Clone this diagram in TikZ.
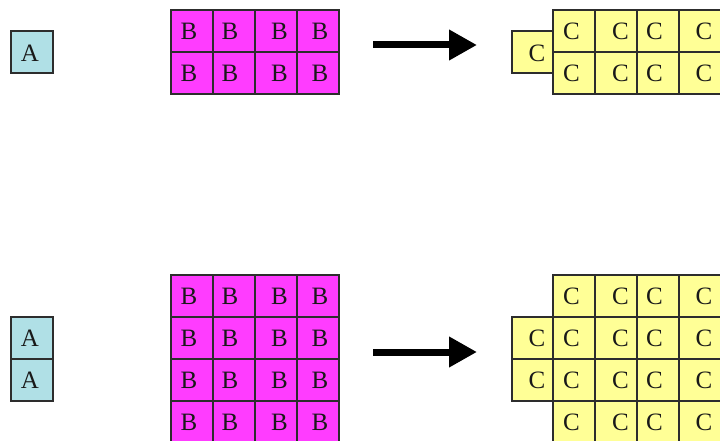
\documentclass[tikz,border=0pt]{standalone}
\usepackage{fontspec}
\setmainfont{Liberation Serif}
\usetikzlibrary{arrows.meta}
\definecolor{cellA}{RGB}{176,224,230}
\definecolor{cellB}{RGB}{255,60,255}
\definecolor{cellC}{RGB}{255,255,150}
\definecolor{edge}{RGB}{45,45,45}
\tikzset{
  cell/.style={draw=edge, line width=1.3pt, minimum width=42pt, minimum height=42pt,
    inner sep=0pt, outer sep=0pt, anchor=north west},
  acell/.style={cell, fill=cellA},
  bcell/.style={cell, fill=cellB},
  ccell/.style={cell, fill=cellC},
  letter/.style={font=\fontsize{25}{30}\selectfont, inner sep=0pt, text=black!90},
  bigarrow/.style={line width=7pt, draw=black, -{Triangle[length=28pt,width=29pt]}}
}
\begin{document}
\begin{tikzpicture}[x=1pt,y=-1pt]
\clip (0,0) rectangle (720,441);
\fill[white] (0,0) rectangle (720,441);
% ---------- top row ----------
\node[acell] (at0) at (11,31) {};
\node[letter] (atl0) at ([xshift=-2pt,yshift=-1pt]at0.center) {A};
\foreach \c/\dx in {0/-3,1/-4,2/3.5,3/2}
  \foreach \r in {0,1} {
    \node[bcell] (bt\r\c) at (171+42*\c,10+42*\r) {};
    \node[letter] (btl\r\c) at ([xshift=\dx pt]bt\r\c.center) {B};
  }
\coordinate (ts) at (373,45);
\coordinate (te) at (477,45);
\draw[bigarrow] (ts) -- (te);
\node[ccell] (ctx) at (512,31) {};
\node[letter] (ctxl) at ([xshift=4pt,yshift=-1pt]ctx.center) {C};
\foreach \c/\dx in {0/-2.5,1/4.5,2/-3.5,3/4}
  \foreach \r in {0,1} {
    \node[ccell] (ct\r\c) at (553+42*\c,10+42*\r) {};
    \node[letter] (ctl\r\c) at ([xshift=\dx pt]ct\r\c.center) {C};
  }
% ---------- bottom row ----------
\foreach \r in {0,1} {
  \node[acell] (ab\r) at (11,317+42*\r) {};
  \node[letter] (abl\r) at ([xshift=-2pt]ab\r.center) {A};
}
\foreach \c/\dx in {0/-3,1/-4,2/3.5,3/2}
  \foreach \r in {0,1,2,3} {
    \node[bcell] (bb\r\c) at (171+42*\c,275+42*\r) {};
    \node[letter] (bbl\r\c) at ([xshift=\dx pt]bb\r\c.center) {B};
  }
\coordinate (bs) at (373,352);
\coordinate (be) at (477,352);
\draw[bigarrow] (bs) -- (be);
\foreach \r in {0,1} {
  \node[ccell] (cbx\r) at (512,317+42*\r) {};
  \node[letter] (cbxl\r) at ([xshift=4pt]cbx\r.center) {C};
}
\foreach \c/\dx in {0/-2.5,1/4.5,2/-3.5,3/4}
  \foreach \r in {0,1,2,3} {
    \node[ccell] (cb\r\c) at (553+42*\c,275+42*\r) {};
    \node[letter] (cbl\r\c) at ([xshift=\dx pt]cb\r\c.center) {C};
  }
\end{tikzpicture}
\end{document}
